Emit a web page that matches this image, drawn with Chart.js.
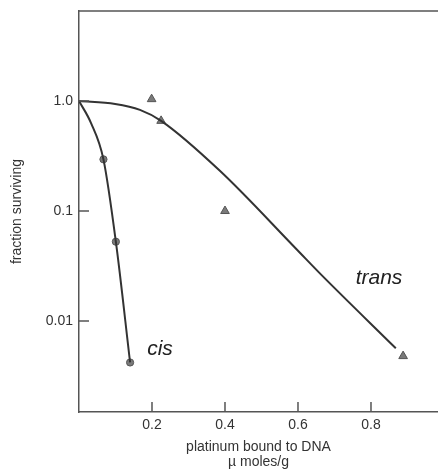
<!DOCTYPE html>
<html>
<head>
<meta charset="utf-8">
<script src="https://cdn.jsdelivr.net/npm/chart.js@4/dist/chart.umd.min.js"></script>
<style>
    html, body { margin: 0; padding: 0; background: #fff; overflow: hidden; }
    canvas { display: block; }
</style>
</head>
<body>
<canvas id="survivalChart" width="438" height="476"></canvas>
<script>
// measured points
let cisX = [0.067, 0.101, 0.140];
let cisY = [0.295, 0.0526, 0.0042];
let transX = [0.199, 0.225, 0.40, 0.888];
let transY = [1.04, 0.66, 0.10, 0.0048];

// fitted curves
let cisCurveX = [0, 0.033, 0.067, 0.101, 0.140];
let cisCurveY = [1.0, 0.63, 0.295, 0.0526, 0.0042];
let transCurveX = [0, 0.099, 0.167, 0.225, 0.386, 0.596, 0.660, 0.868];
let transCurveY = [1.0, 0.94, 0.83, 0.66, 0.232, 0.0449, 0.0271, 0.00565];

let xTicks = [0.2, 0.4, 0.6, 0.8];
let yTicks = [1.0, 0.1, 0.01];
let yTickLabels = ["1.0", "0.1", "0.01"];

let toPoints = function (xs, ys) {
    return xs.map(function (x, i) {
        return { x: x, y: ys[i] };
    });
}

const axisColor = '#555';
const font = "'Liberation Sans', Arial, sans-serif";

// inward tick marks, top frame line and the curve labels
let framePlugin = {
    id: 'frame',
    afterDraw: function (chart) {
        const ctx = chart.ctx;
        const area = chart.chartArea;
        const xs = chart.scales.x;
        const ys = chart.scales.y;
        ctx.save();
        ctx.strokeStyle = axisColor;
        ctx.lineWidth = 1.5;
        ctx.beginPath();
        ctx.moveTo(area.left, area.top);
        ctx.lineTo(area.right, area.top);
        xTicks.forEach(function (v) {
            let px = xs.getPixelForValue(v);
            ctx.moveTo(px, area.bottom);
            ctx.lineTo(px, area.bottom - 10);
        });
        yTicks.forEach(function (v) {
            let py = ys.getPixelForValue(v);
            ctx.moveTo(area.left, py);
            ctx.lineTo(area.left + 10, py);
        });
        ctx.stroke();

        ctx.fillStyle = '#222';
        ctx.font = "italic 21px " + font;
        ctx.textAlign = 'center';
        ctx.textBaseline = 'middle';
        ctx.fillText('trans', xs.getPixelForValue(0.822), ys.getPixelForValue(0.0245));
        ctx.fillText('cis', xs.getPixelForValue(0.222), ys.getPixelForValue(0.0056));
        ctx.restore();
    }
}

// keep the plot area flush with the canvas edges
let noScalePadding = function (scale) {
    scale.paddingLeft = 0;
    scale.paddingRight = 0;
    scale.paddingTop = 0;
    scale.paddingBottom = 0;
}

const ctx = document.getElementById('survivalChart').getContext('2d');
var survivalChart = new Chart(ctx, {
    type: 'scatter',
    data: {
        datasets: [{
            label: 'cis fit',
            data: toPoints(cisCurveX, cisCurveY),
            showLine: true,
            borderColor: '#333',
            borderWidth: 2,
            cubicInterpolationMode: 'monotone',
            pointRadius: 0
        }, {
            label: 'trans fit',
            data: toPoints(transCurveX, transCurveY),
            showLine: true,
            borderColor: '#333',
            borderWidth: 2,
            cubicInterpolationMode: 'monotone',
            pointRadius: 0
        }, {
            label: 'cis',
            data: toPoints(cisX, cisY),
            pointStyle: 'circle',
            pointRadius: 3.6,
            backgroundColor: '#7a7a7a',
            borderColor: '#555',
            borderWidth: 1
        }, {
            label: 'trans',
            data: toPoints(transX, transY),
            pointStyle: 'triangle',
            pointRadius: 5,
            backgroundColor: '#7a7a7a',
            borderColor: '#555',
            borderWidth: 1
        }]
    },
    options: {
        responsive: false,
        animation: false,
        layout: {
            autoPadding: false,
            padding: { top: 11, right: 0, bottom: 0, left: 0 }
        },
        plugins: {
            legend: { display: false },
            tooltip: { enabled: false }
        },
        scales: {
            x: {
                type: 'linear',
                min: 0,
                max: 0.9836,
                afterFit: function (scale) {
                    scale.height = 64;
                    noScalePadding(scale);
                },
                afterBuildTicks: function (scale) {
                    scale.ticks = xTicks.map(function (v) { return { value: v }; });
                },
                grid: { display: false, drawTicks: false },
                border: { display: true, color: axisColor, width: 1.5 },
                ticks: {
                    padding: 5,
                    color: '#333',
                    font: { family: font, size: 14 },
                    callback: function (v) { return v.toFixed(1); }
                },
                title: {
                    display: true,
                    text: ['platinum bound to DNA', '\u00b5 moles/g'],
                    color: '#333',
                    font: { family: font, size: 14, lineHeight: '15px' },
                    padding: { top: 0, bottom: 6.5 }
                }
            },
            y: {
                type: 'logarithmic',
                min: 0.00149,
                max: 6.58,
                afterFit: function (scale) {
                    scale.width = 79;
                    noScalePadding(scale);
                },
                afterBuildTicks: function (scale) {
                    scale.ticks = yTicks.map(function (v) { return { value: v }; });
                },
                grid: { display: false, drawTicks: false },
                border: { display: true, color: axisColor, width: 1.5 },
                ticks: {
                    padding: 6,
                    color: '#333',
                    font: { family: font, size: 14 },
                    callback: function (v) {
                        let i = yTicks.indexOf(v);
                        return i >= 0 ? yTickLabels[i] : '';
                    }
                },
                title: {
                    display: true,
                    text: 'fraction surviving',
                    color: '#333',
                    font: { family: font, size: 14, lineHeight: '15px' },
                    padding: { top: 10, bottom: 0 }
                }
            }
        }
    },
    plugins: [framePlugin]
});
</script>
</body>
</html>
